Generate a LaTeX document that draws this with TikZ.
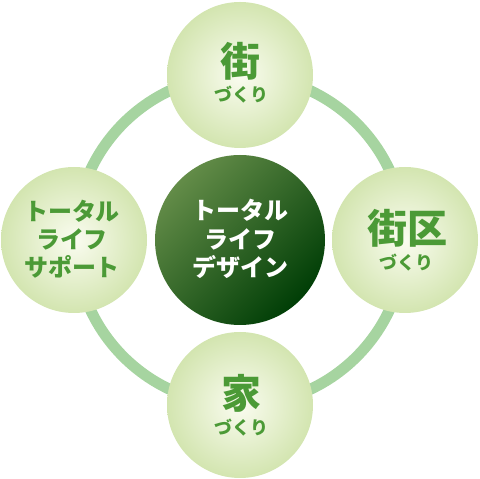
\documentclass[tikz,border=0pt]{standalone}
\usepackage{fontspec}
\newfontfamily\jp{Noto Sans CJK JP}
\definecolor{ringc}{HTML}{A6D4A0}
\definecolor{txtg}{HTML}{4B9A36}
\definecolor{inC}{HTML}{FAFCF0}
\definecolor{outC}{HTML}{D3E5B0}
\definecolor{cLight}{HTML}{638C48}
\definecolor{cDark}{HTML}{003E06}
\tikzset{
  outer/.style={circle, minimum size=146pt, inner sep=0pt, shade, inner color=inC, outer color=outC},
  centerc/.style={circle, minimum size=170pt, inner sep=0pt, shade, top color=cLight, bottom color=cDark, shading angle=45},
  big/.style={inner sep=0pt, text=txtg, font=\jp\bfseries\fontsize{40}{40}\selectfont},
  small/.style={inner sep=0pt, text=txtg, font=\jp\bfseries\fontsize{18}{18}\selectfont},
  mid/.style={inner sep=0pt, text=txtg, font=\jp\bfseries\fontsize{24}{24}\selectfont},
  midw/.style={mid, text=white}
}
\begin{document}
\begin{tikzpicture}[x=1pt,y=1pt]
\useasboundingbox (0,0) rectangle (480,479);
\draw[ringc, line width=11pt] (240,239) circle[radius=165];
\node[outer] (top) at (240,404) {};
\node[outer] (right) at (405,239) {};
\node[outer] (bottom) at (240,74) {};
\node[outer] (left) at (74,239) {};
\node[centerc] (center) at (240,239) {};
% top
\node[big] (t1) at (240,418) {街};
\node[small] (t2) at (241,384) {づくり};
% right
\node[big] (r1) at (407,251) {街区};
\node[small] (r2) at (406,216) {づくり};
% bottom
\node[big] (b1) at (241,86) {家};
\node[small] (b2) at (241,51) {づくり};
% left
\node[mid] (l1) at (72,268) {トータル};
\node[mid] (l2) at (72,240) {ライフ};
\node[mid] (l3) at (72,212) {サポート};
% center
\node[midw] (c1) at (240,269) {トータル};
\node[midw] (c2) at (240,240) {ライフ};
\node[midw] (c3) at (240,212) {デザイン};
\end{tikzpicture}
\end{document}
